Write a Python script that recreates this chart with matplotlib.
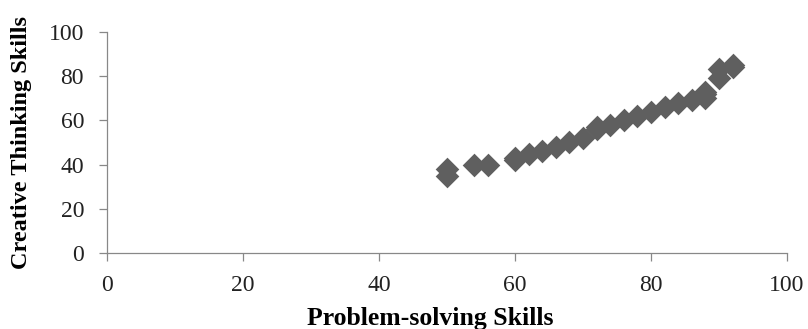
import matplotlib.pyplot as plt

# Problem-solving vs creative thinking scores
problem_solving = [50, 50, 54, 56, 60, 60, 62, 64, 66, 68, 70, 72, 72, 74, 76, 78, 80, 82, 84, 86, 88, 88, 88, 90, 90, 92, 92]
creative_thinking = [35, 38, 40, 40, 42, 43, 45, 46, 48, 50, 52, 56, 57, 58, 60, 62, 64, 66, 68, 69, 70, 72, 73, 79, 83, 85, 84]

plt.rcParams['font.family'] = ['Liberation Serif', 'DejaVu Serif']

fig = plt.figure(figsize=(8.08, 3.29), dpi=100)
ax = fig.add_axes([0.1324, 0.231, 0.8416, 0.672])

ax.scatter(problem_solving, creative_thinking, marker='D', s=145, color='#5f5f5f', linewidths=0)

ax.set_xlim(0, 100)
ax.set_ylim(0, 100)
ax.set_xticks(range(0, 101, 20))
ax.set_yticks(range(0, 101, 20))

for side in ['top', 'right']:
    ax.spines[side].set_visible(False)
for side in ['left', 'bottom']:
    ax.spines[side].set_color('#888888')
    ax.spines[side].set_linewidth(0.9)

ax.tick_params(axis='both', colors='#888888', labelcolor='#222222', labelsize=17, length=5.5, width=0.9)
ax.tick_params(axis='x', pad=10)
ax.tick_params(axis='y', pad=11)

ax.set_xlabel('Problem-solving Skills', fontsize=18.5, fontweight='bold')
ax.set_ylabel('Creative Thinking Skills', fontsize=17.5, fontweight='bold')
ax.xaxis.set_label_coords(0.475, -0.245)
ax.yaxis.set_label_coords(-0.11, 0.5)

fig.savefig('out.png', dpi=100)
